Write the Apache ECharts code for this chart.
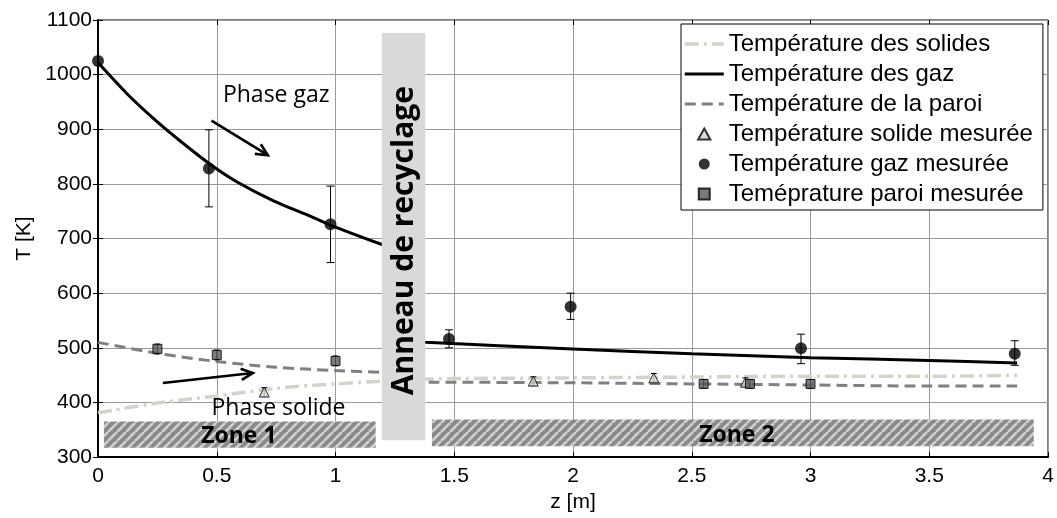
<!DOCTYPE html>
<html><head><meta charset="utf-8">
<script src="https://cdn.jsdelivr.net/npm/echarts@6/dist/echarts.min.js"></script>
<style>html,body{margin:0;padding:0;background:#fff}#c{width:1057px;height:518px}</style>
</head><body><div id="c"></div>
<script>
// ---- data ----
const seriesNames = ['Température des solides','Température des gaz','Température de la paroi',
  'Température solide mesurée','Température gaz mesurée','Teméprature paroi mesurée'];

// model curves (null = hidden by the recycling ring)
const solidCurveZ = [0,0.25,0.5,0.75,1.0,1.2,1.4,2.0,2.5,3.0,3.5,3.87];
const solidCurveT = [381,399,412,426,434,439,443,445,446.5,448,448,449.5];
const gasCurveZ = [0,0.12,0.233,0.345,0.472,0.584,0.739,0.893,1.0,1.19,1.26,1.29,1.32,1.38,2.0,2.5,3.0,3.5,3.87];
const gasCurveT = [1022,966,920,879,836,804,769,741,721,690,680,null,513,510,498,489,482,477,472];
const wallCurveZ = [0,0.25,0.5,0.75,1.0,1.2,1.26,1.29,1.32,1.4,2.0,2.5,3.0,3.5,3.87];
const wallCurveT = [510,490,475,464.5,458.4,455,454,null,437,437,436,434,432,430,430];

// measurements
const gasMeasZ = [0,0.467,0.979,1.478,1.99,2.96,3.86];
const gasMeasT = [1025,828,726,516,575,499,489];
const gasMeasLow = [1025,758,656,500,552,471,468];
const gasMeasHigh = [1025,899,796,533,600,525,513];
const solidMeasZ = [0.70,1.833,2.34,2.726];
const solidMeasT = [419,439,445,437];
const solidMeasLow = [411,431,437,429];
const solidMeasHigh = [427,447,453,445];
const wallMeasZ = [0.25,0.5,1.0,2.55,2.745,3.0];
const wallMeasT = [498,487,476,434,434,434];
const wallMeasLow = [489,478,467,426,426,426];
const wallMeasHigh = [507,496,485,442,442,442];

// annotations (data coordinates)
const ringBand = [1.195, 1.378, 331, 1076];
const ringLabel = 'Anneau de recyclage';
const zoneBands = [[0.025,1.169,317,365],[1.406,3.94,320,369]];
const zoneLabels = ['Zone 1','Zone 2'];
const zoneLabelPos = [[0.593,337],[2.69,340]];
const notes = [
  {text:'Phase gaz', z:0.526, t:961},
  {text:'Phase solide', z:0.478, t:389}
];
const arrows = [[0.478,916,0.715,852.6],[0.273,435.7,0.652,453.8]];

// ---- chart ----
const pairs = (xs, ys) => xs.map((x,i)=>[x, ys[i]===null ? '-' : ys[i]]);
const AX = 'Liberation Sans, Arial, sans-serif';
const CAL = 'Open Sans, sans-serif';

// hatch pattern
const pc = document.createElement('canvas');
pc.width = 9; pc.height = 9;
const g = pc.getContext('2d');
g.fillStyle = '#8a8a8a'; g.fillRect(0,0,9,9);
g.strokeStyle = '#d2d2d2'; g.lineWidth = 2.6;
for (const k of [-9,0,9]) { g.beginPath(); g.moveTo(k,9); g.lineTo(k+9,0); g.stroke(); }

function errRender(lowArr, highArr, cap){
  return function(params, api){
    const i = params.dataIndex;
    const x = api.value(0);
    if (lowArr[i] === highArr[i]) return null;
    const a = api.coord([x, lowArr[i]]), b = api.coord([x, highArr[i]]);
    const st = {stroke:'#000', lineWidth:1};
    return {type:'group', children:[
      {type:'line', shape:{x1:a[0],y1:a[1],x2:b[0],y2:b[1]}, style:st},
      {type:'line', shape:{x1:a[0]-cap,y1:a[1],x2:a[0]+cap,y2:a[1]}, style:st},
      {type:'line', shape:{x1:b[0]-cap,y1:b[1],x2:b[0]+cap,y2:b[1]}, style:st}
    ]};
  };
}

const hideSym = {color:'rgba(0,0,0,0)', borderColor:'rgba(0,0,0,0)', borderWidth:0};

const chart = echarts.init(document.getElementById('c'), null, {renderer:'canvas'});
chart.setOption({
  animation:false,
  backgroundColor:'#fff',
  grid:{left:98, right:9, top:20, bottom:56, show:true, borderColor:'#000', borderWidth:1},
  xAxis:[{
    type:'value', min:0, max:4, interval:0.5, position:'bottom',
    name:'z [m]', nameLocation:'middle', nameGap:31,
    nameTextStyle:{fontFamily:AX, fontSize:21, color:'#000'},
    axisLine:{show:true, onZero:false, lineStyle:{color:'#000', width:2}},
    axisTick:{show:true, inside:true, length:5, lineStyle:{color:'#000'}},
    axisLabel:{fontFamily:AX, fontSize:21, color:'#000', margin:9},
    splitLine:{show:true, lineStyle:{color:'#9a9a9a', width:1}}
  },{
    type:'value', min:0, max:4, interval:0.5, position:'top',
    axisLine:{show:false}, axisLabel:{show:false}, splitLine:{show:false},
    axisTick:{show:true, inside:true, length:5, lineStyle:{color:'#000'}}
  }],
  yAxis:[{
    type:'value', min:300, max:1100, interval:100, position:'left',
    name:'T [K]', nameLocation:'middle', nameGap:46, nameRotate:90,
    nameTextStyle:{fontFamily:AX, fontSize:21, color:'#000'},
    axisLine:{show:true, onZero:false, lineStyle:{color:'#000', width:2}},
    axisTick:{show:true, inside:true, length:5, lineStyle:{color:'#000'}},
    axisLabel:{fontFamily:AX, fontSize:21, color:'#000', margin:6, formatter:v=>String(v)},
    splitLine:{show:true, lineStyle:{color:'#9a9a9a', width:1}}
  },{
    type:'value', min:300, max:1100, interval:100, position:'right',
    axisLine:{show:false}, axisLabel:{show:false}, splitLine:{show:false},
    axisTick:{show:true, inside:true, length:5, lineStyle:{color:'#000'}}
  }],
  legend:{
    orient:'vertical', left:681, top:24,
    backgroundColor:'#fff', borderColor:'#000', borderWidth:1, borderRadius:0,
    padding:[8,10,4,2], itemGap:6, itemWidth:39, itemHeight:11,
    textStyle:{fontFamily:AX, fontSize:24, color:'#000'},
    data:[
      {name:seriesNames[0], itemStyle:hideSym, lineStyle:{width:3.5}},
      {name:seriesNames[1], itemStyle:hideSym, lineStyle:{width:3}},
      {name:seriesNames[2], itemStyle:hideSym, lineStyle:{width:3}},
      {name:seriesNames[3], icon:'path://M5,0L10,9L0,9Z'},
      {name:seriesNames[4], icon:'circle'},
      {name:seriesNames[5], icon:'path://M0,0L10,0L10,10L0,10Z'}
    ]
  },
  series:[
    {name:seriesNames[0], type:'line', data:pairs(solidCurveZ, solidCurveT), symbol:'none', showSymbol:false,
      smooth:0.3, z:3, color:'#d5d2ca', lineStyle:{color:'#d5d2ca', width:3.5, type:[14,5,3,5]}},
    {name:seriesNames[1], type:'line', data:pairs(gasCurveZ, gasCurveT), symbol:'none', showSymbol:false,
      smooth:0.3, z:3, color:'#000', lineStyle:{color:'#000', width:3}},
    {name:seriesNames[2], type:'line', data:pairs(wallCurveZ, wallCurveT), symbol:'none', showSymbol:false,
      smooth:0.3, z:3, color:'#808080', lineStyle:{color:'#808080', width:3, type:[11,6]}},
    {type:'custom', z:4, data:pairs(solidMeasZ, solidMeasT), renderItem:errRender(solidMeasLow, solidMeasHigh, 3), silent:true},
    {type:'custom', z:4, data:pairs(gasMeasZ, gasMeasT), renderItem:errRender(gasMeasLow, gasMeasHigh, 4), silent:true},
    {type:'custom', z:4, data:pairs(wallMeasZ, wallMeasT), renderItem:errRender(wallMeasLow, wallMeasHigh, 3), silent:true},
    {name:seriesNames[3], type:'scatter', z:5, data:pairs(solidMeasZ, solidMeasT), symbol:'triangle', symbolSize:10,
      itemStyle:{color:'#d6d6d0', borderColor:'#000', borderWidth:1}},
    {name:seriesNames[4], type:'scatter', z:5, data:pairs(gasMeasZ, gasMeasT), symbol:'circle', symbolSize:12,
      itemStyle:{color:'#000'}},
    {name:seriesNames[5], type:'scatter', z:5, data:pairs(wallMeasZ, wallMeasT), symbol:'rect', symbolSize:9,
      itemStyle:{color:'#5a5a5a', borderColor:'#000', borderWidth:1}},
    // recycling ring band
    {type:'custom', z:10, silent:true, data:[ringBand], renderItem:function(params, api){
      const p0 = api.coord([api.value(0), api.value(3)]);
      const p1 = api.coord([api.value(1), api.value(2)]);
      return {type:'group', children:[
        {type:'rect', shape:{x:p0[0], y:p0[1], width:p1[0]-p0[0], height:p1[1]-p0[1]}, style:{fill:'#d9d9d9'}},
        {type:'text', x:(p0[0]+p1[0])/2+1, y:(p0[1]+p1[1])/2 + 4, rotation:Math.PI/2,
          style:{text:ringLabel, fontFamily:CAL, fontWeight:'bold', fontSize:30, fill:'#000', align:'center', verticalAlign:'middle'}}
      ]};
    }},
    // zones
    {type:'custom', z:10, silent:true, data:zoneBands, renderItem:function(params, api){
      const p0 = api.coord([api.value(0), api.value(3)]);
      const p1 = api.coord([api.value(1), api.value(2)]);
      return {type:'rect', shape:{x:p0[0], y:p0[1], width:p1[0]-p0[0], height:p1[1]-p0[1]},
        style:{fill:{image:pc, repeat:'repeat'}}};
    }},
    // zone labels
    {type:'custom', z:11, silent:true, data:zoneLabelPos, renderItem:function(params, api){
      const p = api.coord([api.value(0), api.value(1)]);
      return {type:'text', x:p[0], y:p[1], style:{text:zoneLabels[params.dataIndex], fontFamily:CAL, fontWeight:'bold',
        fontSize:23, fill:'#000', align:'center', verticalAlign:'middle'}};
    }},
    // text notes
    {type:'custom', z:11, silent:true, data:notes.map(n=>[n.z,n.t]), renderItem:function(params, api){
      const p = api.coord([api.value(0), api.value(1)]);
      return {type:'text', x:p[0], y:p[1], style:{text:notes[params.dataIndex].text, fontFamily:CAL,
        fontSize:23, fill:'#000', align:'left', verticalAlign:'middle'}};
    }},
    // arrows
    {type:'custom', z:11, silent:true, data:arrows, renderItem:function(params, api){
      const a = api.coord([api.value(0), api.value(1)]);
      const b = api.coord([api.value(2), api.value(3)]);
      const ang = Math.atan2(b[1]-a[1], b[0]-a[0]);
      const L = 13, w = 0.45;
      const h1 = [b[0]-L*Math.cos(ang-w), b[1]-L*Math.sin(ang-w)];
      const h2 = [b[0]-L*Math.cos(ang+w), b[1]-L*Math.sin(ang+w)];
      const st = {stroke:'#000', lineWidth:2.6, fill:null};
      return {type:'group', children:[
        {type:'line', shape:{x1:a[0],y1:a[1],x2:b[0],y2:b[1]}, style:st},
        {type:'polyline', shape:{points:[h1,b,h2]}, style:st}
      ]};
    }}
  ]
});
</script></body></html>
